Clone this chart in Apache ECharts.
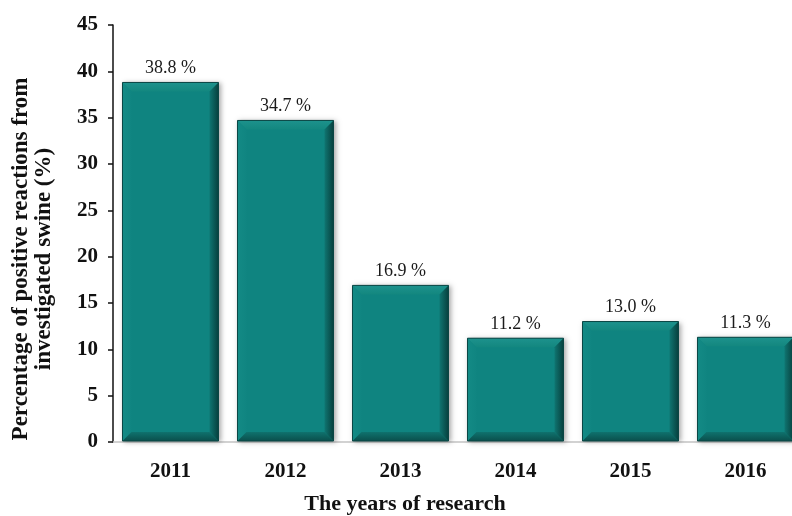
<!DOCTYPE html>
<html>
<head>
<meta charset="utf-8">
<script src="https://cdn.jsdelivr.net/npm/echarts@6/dist/echarts.min.js"></script>
<style>
html,body{margin:0;padding:0;background:#fff;}
#chart{width:792px;height:516px;}
</style>
</head>
<body>
<div id="chart"></div>
<script>
const years = ['2011', '2012', '2013', '2014', '2015', '2016'];
const percentages = [38.8, 34.7, 16.9, 11.2, 13.0, 11.3];
const yTicks = { min: 0, max: 45, interval: 5 };
const xTitle = 'The years of research';
const yTitle = 'Percentage of positive reactions from\ninvestigated swine (%)';

const FONT = '"Liberation Serif", "Times New Roman", serif';
const chart = echarts.init(document.getElementById('chart'), null, { renderer: 'canvas' });

function grad(x, y, x2, y2, c0, c1) {
  return new echarts.graphic.LinearGradient(x, y, x2, y2, [{ offset: 0, color: c0 }, { offset: 1, color: c1 }]);
}

function renderBevelBar(params, api) {
  const idx = api.value(0);
  const v = api.value(1);
  const top = api.coord([idx, v]);
  const base = api.coord([idx, 0]);
  const w = api.size([1, 0])[0] * 0.835;
  const x0 = top[0] - w / 2, x1 = top[0] + w / 2, y0 = top[1], y1 = base[1] - 1;
  const b = 9;
  return {
    type: 'group',
    children: [
      { type: 'rect', shape: { x: x0, y: y0, width: w, height: y1 - y0 },
        style: { fill: '#0f8480', shadowBlur: 5, shadowOffsetX: 2, shadowOffsetY: 1, shadowColor: 'rgba(0,0,0,0.35)' } },
      { type: 'polygon', shape: { points: [[x0, y0], [x1, y0], [x1 - b, y0 + b], [x0 + b, y0 + b]] },
        style: { fill: grad(0, 0, 0, 1, '#1d928d', '#13877f') } },
      { type: 'polygon', shape: { points: [[x0, y0], [x0, y1], [x0 + b, y1 - b], [x0 + b, y0 + b]] },
        style: { fill: grad(0, 0, 1, 0, '#138a85', '#108581') } },
      { type: 'polygon', shape: { points: [[x1, y0], [x1, y1], [x1 - b, y1 - b], [x1 - b, y0 + b]] },
        style: { fill: grad(0, 0, 1, 0, '#0f7571', '#07403e') } },
      { type: 'polygon', shape: { points: [[x0, y1], [x1, y1], [x1 - b, y1 - b], [x0 + b, y1 - b]] },
        style: { fill: grad(0, 0, 0, 1, '#0f726e', '#0a4f4c') } },
      { type: 'rect', shape: { x: x0, y: y0, width: w, height: y1 - y0 },
        style: { fill: 'none', stroke: '#0b4644', lineWidth: 1 } },
      { type: 'text', x: top[0], y: y0 - 5,
        style: { text: v.toFixed(1) + ' %', align: 'center', verticalAlign: 'bottom',
                 font: 'normal 18px ' + FONT, fill: '#1a1a1a' } }
    ]
  };
}

chart.setOption({
  animation: false,
  backgroundColor: '#ffffff',
  grid: { left: 113, top: 25, width: 690, height: 417, outerBoundsMode: 'none', containLabel: false },
  xAxis: {
    type: 'category',
    data: years,
    axisLine: { lineStyle: { color: '#c4c4c4', width: 1.5 } },
    axisTick: { show: false },
    axisLabel: { margin: 19, fontFamily: FONT, fontWeight: 'bold', fontSize: 21, color: '#111' }
  },
  yAxis: {
    type: 'value',
    min: yTicks.min, max: yTicks.max, interval: yTicks.interval,
    splitLine: { show: false },
    axisLine: { show: true, lineStyle: { color: '#111', width: 1.5 } },
    axisTick: { show: true, length: 5, lineStyle: { color: '#111', width: 1.5 } },
    axisLabel: { margin: 15, fontFamily: FONT, fontWeight: 'bold', fontSize: 21, color: '#111' }
  },
  series: [{
    type: 'custom',
    renderItem: renderBevelBar,
    data: percentages.map((p, i) => [i, p]),
    encode: { x: 0, y: 1 },
    clip: false
  }],
  graphic: [
    { type: 'text', x: 405, y: 504,
      style: { text: xTitle, font: 'bold 22px ' + FONT, fill: '#111', align: 'center', verticalAlign: 'middle' } },
    { type: 'text', x: 33, y: 259, rotation: Math.PI / 2,
      style: { text: yTitle, font: 'bold 23px ' + FONT, fill: '#111', align: 'center', verticalAlign: 'middle', lineHeight: 23 } }
  ]
});
</script>
</body>
</html>
